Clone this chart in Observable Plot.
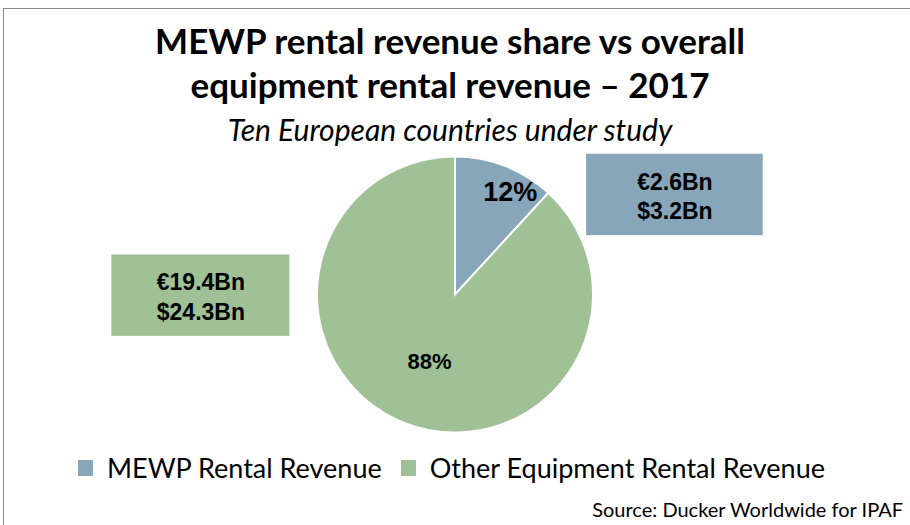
<!DOCTYPE html>
<html><head><meta charset="utf-8">
<script src="https://cdn.jsdelivr.net/npm/d3@7"></script>
<script src="https://cdn.jsdelivr.net/npm/@observablehq/plot@0.6"></script>
<style>
body{margin:0;background:#fff;}
#chart{position:relative;width:910px;height:525px;overflow:hidden;background:#fff;font-family:Lato,"Open Sans",sans-serif;color:#000;}
#frame{position:absolute;left:3px;top:8px;width:940px;height:540px;border-left:1.5px solid #8c8c8c;border-top:1.5px solid #8c8c8c;box-sizing:border-box;}
#title{position:absolute;left:0;top:18px;width:900px;text-align:center;font-weight:bold;font-size:35px;line-height:44px;}
#subtitle{position:absolute;left:0;top:111px;width:900px;text-align:center;font-style:italic;font-size:30px;line-height:36px;}
#plot{position:absolute;left:0;top:150px;}
#legend{position:absolute;left:78px;top:451px;font-size:27px;line-height:34px;display:flex;align-items:center;white-space:nowrap;}
#legend .sw{display:inline-block;width:15px;height:16px;margin-right:14px;}
#legend .item{display:flex;align-items:center;margin-right:19px;}
#source{position:absolute;right:7px;top:497px;font-size:20px;line-height:24px;}
</style></head>
<body>
<div id="chart">
  <div id="frame"></div>
  <div id="title"></div>
  <div id="subtitle"></div>
  <div id="plot"></div>
  <div id="legend"></div>
  <div id="source"></div>
</div>
<script>
// ---- data ----
const categories = ["MEWP Rental Revenue", "Other Equipment Rental Revenue"];
const values = [2.6, 19.4];               // € billions
const percentLabels = ["12%", "88%"];
const euroLabels = ["€2.6Bn", "€19.4Bn"];
const usdLabels = ["$3.2Bn", "$24.3Bn"];
const titleLines = ["MEWP rental revenue share vs overall", "equipment rental revenue – 2017"];
const subtitleText = "Ten European countries under study";
const sourceText = "Source: Ducker Worldwide for IPAF";

// ---- styles / layout ----
const colors = ["#87a6ba", "#a0c196"];
const labelRadius = [0.84, 0.52];
const labelAngleShift = [0.12, 0];        // radians, label nudge within slice
const labelSizes = [27, 22];
// callout boxes in pie-radius units (x right, y up), relative to pie centre
const callouts = [
  {x1: 0.95, x2: 2.23, y1: 0.43, y2: 1.02},
  {x1: -2.49, x2: -1.20, y1: -0.30, y2: 0.29}
];

document.getElementById("title").innerHTML = titleLines.join("<br>");
document.getElementById("subtitle").textContent = subtitleText;
document.getElementById("source").textContent = sourceText;
const legend = document.getElementById("legend");
categories.forEach((c, i) => {
  const it = document.createElement("span");
  it.className = "item";
  it.innerHTML = `<span class="sw" style="background:${colors[i]}"></span><span>${c}</span>`;
  legend.appendChild(it);
});

const table = categories.map((c, i) => ({category: c, value: values[i], pct: percentLabels[i], euro: euroLabels[i], usd: usdLabels[i], i}));
const arcs = d3.pie().sort(null).value(d => d.value)(table);
arcs.forEach(a => {
  const mid = (a.startAngle + a.endAngle) / 2 + labelAngleShift[a.data.i];
  const rf = labelRadius[a.data.i];
  a.data.lx = rf * Math.sin(mid);
  a.data.ly = rf * Math.cos(mid);
});
const boxes = table.map((d, i) => ({...d, ...callouts[i], cx: (callouts[i].x1 + callouts[i].x2) / 2, cy: (callouts[i].y1 + callouts[i].y2) / 2}));

function pieMark(index, scales, values, dimensions) {
  const cx = scales.x(0), cy = scales.y(0), r = scales.x(1) - cx;
  const arc = d3.arc().innerRadius(0).outerRadius(r);
  const g = d3.create("svg:g").attr("transform", `translate(${cx},${cy})`);
  g.selectAll("path").data(arcs).join("path")
    .attr("d", arc)
    .attr("fill", d => colors[d.data.i])
    .attr("stroke", "#fff")
    .attr("stroke-width", 2);
  return g.node();
}

const R = 138;
const plot = Plot.plot({
  width: 910,
  height: 300,
  margin: 0,
  x: {domain: [-1, 1], range: [455 - R, 455 + R], axis: null},
  y: {domain: [-1, 1], range: [144.5 + R, 144.5 - R], axis: null},
  style: {fontFamily: "'Liberation Sans', Arial, sans-serif", background: "transparent", overflow: "visible"},
  marks: [
    Plot.rect(boxes, {x1: "x1", x2: "x2", y1: "y1", y2: "y2", fill: d => colors[d.i]}),
    Plot.text(boxes, {x: "cx", y: "cy", text: d => d.euro + "\n" + d.usd, fontSize: 23, fontWeight: "bold", lineHeight: 1.3, fill: "#000"}),
    pieMark,
    Plot.text(table.slice(0, 1), {x: "lx", y: "ly", text: "pct", fontSize: labelSizes[0], fontWeight: "bold", fontFamily: "'Liberation Sans Narrow', 'Liberation Sans', Arial, sans-serif", fill: "#000"}),
    Plot.text(table.slice(1), {x: "lx", y: "ly", text: "pct", fontSize: labelSizes[1], fontWeight: "bold", fill: "#000"})
  ]
});
document.getElementById("plot").appendChild(plot);
</script>
</body></html>
